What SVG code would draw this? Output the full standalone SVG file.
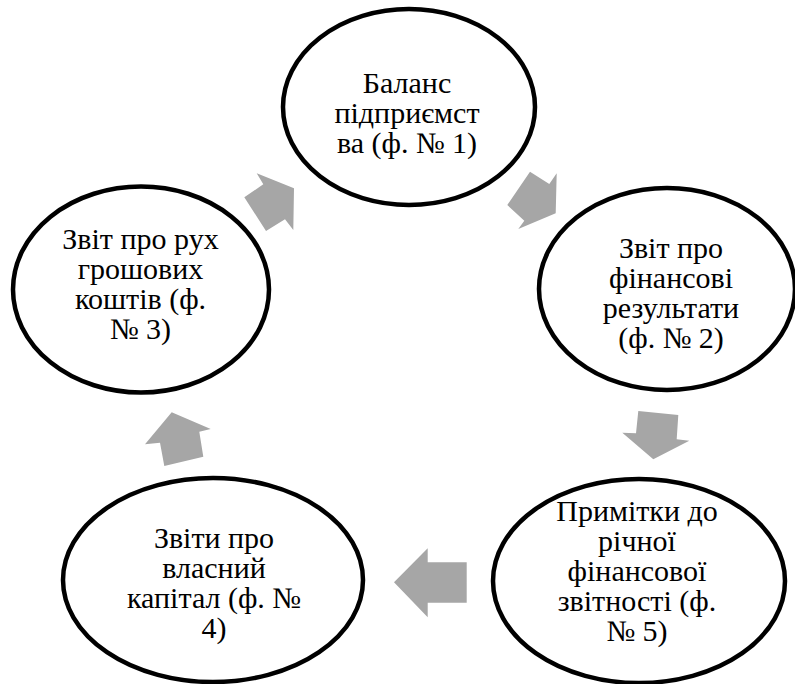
<svg xmlns="http://www.w3.org/2000/svg" width="795" height="684" viewBox="0 0 795 684">
<style>
.n{fill:#fff;stroke:#000;stroke-width:4.5}
.t{font-family:"Liberation Serif","Times New Roman",serif;font-size:30px;fill:#000;text-anchor:middle}
.a{fill:#a6a6a6;stroke:none}
</style>
<rect width="795" height="684" fill="#fff"/>
<g id="connectors">
<polygon class="a" points="256.7,173.3 294,188.3 293.3,230 285,219.3 266,231 244.3,197.3 263.3,184.3"/>
<polygon class="a" points="530,171.7 549.3,184 556.7,173.3 555.7,213.3 518.3,229 524.3,220.7 507.3,205"/>
<polygon class="a" points="638.3,411 678.3,415 676.7,439.3 689.3,440.7 653.3,459.3 622.3,432.7 636,433.3"/>
<polygon class="a" points="394,582.3 427.7,548.3 427.7,562.3 466.7,562.3 466.7,602.7 427.7,602.7 427.7,617.3"/>
<polygon class="a" points="171.7,412.3 210.7,429 199.3,431.7 203.3,456.7 164.3,466 160,442.7 145,444.3"/>
</g>
<g id="node1">
<ellipse class="n" cx="409" cy="107" rx="126" ry="98"/>
<text class="t" x="407" y="93.3">Баланс</text>
<text class="t" x="407" y="123.3">підприємст</text>
<text class="t" x="407" y="153.3">ва (ф. № 1)</text>
</g>
<g id="node2">
<ellipse class="n" cx="667" cy="289" rx="128" ry="101"/>
<text class="t" x="671" y="257.7">Звіт про</text>
<text class="t" x="671" y="287.7">фінансові</text>
<text class="t" x="671" y="317.7">результати</text>
<text class="t" x="671" y="347.7">(ф. № 2)</text>
</g>
<g id="node3">
<ellipse class="n" cx="141" cy="289.5" rx="128" ry="103"/>
<text class="t" x="140.5" y="248.5">Звіт про рух</text>
<text class="t" x="140.5" y="278.5">грошових</text>
<text class="t" x="140.5" y="308.5">коштів (ф.</text>
<text class="t" x="140.5" y="338.5">№ 3)</text>
</g>
<g id="node5">
<ellipse class="n" cx="639" cy="581" rx="146" ry="102"/>
<text class="t" x="637" y="520.5">Примітки до</text>
<text class="t" x="637" y="550.5">річної</text>
<text class="t" x="637" y="580.5">фінансової</text>
<text class="t" x="637" y="610.5">звітності (ф.</text>
<text class="t" x="637" y="640.5">№ 5)</text>
</g>
<g id="node4">
<ellipse class="n" cx="213" cy="580" rx="150" ry="102"/>
<text class="t" x="214" y="548.3">Звіти про</text>
<text class="t" x="214" y="578.3">власний</text>
<text class="t" x="214" y="608.3">капітал (ф. №</text>
<text class="t" x="214" y="638.3">4)</text>
</g>
</svg>
